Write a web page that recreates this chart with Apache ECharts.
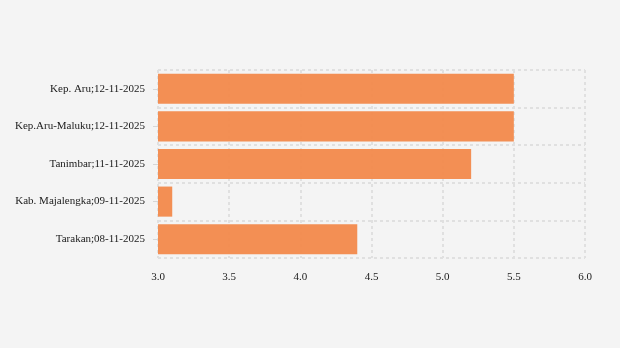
<!DOCTYPE html>
<html>
<head>
<meta charset="utf-8">
<script src="https://cdn.jsdelivr.net/npm/echarts@6/dist/echarts.min.js"></script>
<style>
html,body{margin:0;padding:0;background:#f4f4f4;}
#chart{width:620px;height:348px;}
</style>
</head>
<body>
<div id="chart"></div>
<script>
// Earthquake magnitudes by location and date (top to bottom as listed)
const categories = [
  'Kep. Aru;12-11-2025',
  'Kep.Aru-Maluku;12-11-2025',
  'Tanimbar;11-11-2025',
  'Kab. Majalengka;09-11-2025',
  'Tarakan;08-11-2025'
];
const magnitudes = [5.5, 5.5, 5.2, 3.1, 4.4];
const xTicks = [3.0, 3.5, 4.0, 4.5, 5.0, 5.5, 6.0];

const font = '"Liberation Serif", "Times New Roman", serif';
const gridLine = { show: true, lineStyle: { color: '#e0e0e0', width: 2, type: [3, 3] } };

const chart = echarts.init(document.getElementById('chart'), null, { renderer: 'canvas' });
chart.setOption({
  backgroundColor: '#f4f4f4',
  animation: false,
  grid: { left: 158, right: 35, top: 70, bottom: 90, containLabel: false },
  xAxis: {
    type: 'value',
    min: xTicks[0],
    max: xTicks[xTicks.length - 1],
    interval: 0.5,
    axisLine: { show: false },
    axisTick: { show: false },
    splitLine: gridLine,
    axisLabel: {
      color: '#1a1a1a', fontFamily: font, fontSize: 11, margin: 14,
      formatter: v => v.toFixed(1)
    }
  },
  yAxis: {
    type: 'category',
    inverse: true,
    data: categories,
    axisLine: { show: false },
    axisTick: { show: true, alignWithLabel: true, length: 5, lineStyle: { color: '#d6d6d6' } },
    splitLine: gridLine,
    axisLabel: { color: '#1a1a1a', fontFamily: font, fontSize: 11, margin: 13 }
  },
  series: [{
    type: 'bar',
    data: magnitudes,
    barCategoryGap: '20%',
    z: 1,
    itemStyle: { color: '#f2894b', opacity: 0.95 }
  }]
});
</script>
</body>
</html>
